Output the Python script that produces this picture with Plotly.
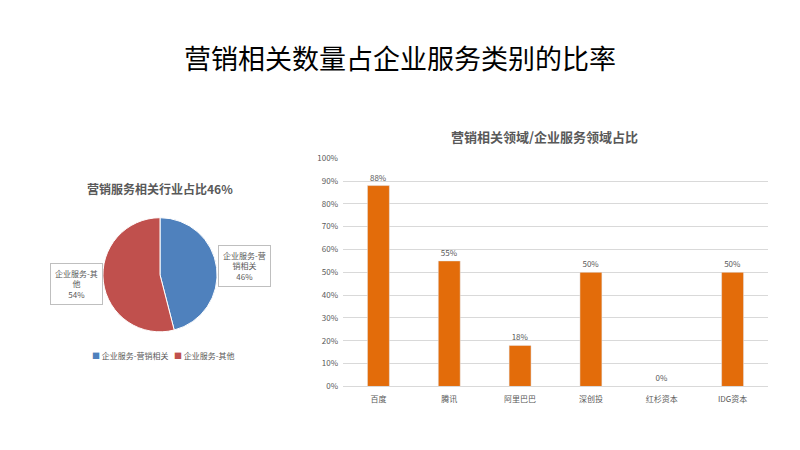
import plotly.graph_objects as go

# Pie data
pie_labels = ["企业服务-营销相关", "企业服务-其他"]
pie_values = [46, 54]
pie_colors = ["#4F81BD", "#C0504D"]

# Bar data
bar_categories = ["百度", "腾讯", "阿里巴巴", "深创投", "红杉资本", "IDG资本"]
bar_values = [0.88, 0.55, 0.18, 0.50, 0.00, 0.50]
bar_color = "#E36C0A"

FONT = "Noto Sans CJK SC"
GRAY = "#595959"
W, H = 800, 450


def px(x):
    return x / W


def py(y):
    return 1 - y / H


fig = go.Figure()

fig.add_trace(go.Pie(
    labels=pie_labels, values=pie_values,
    marker=dict(colors=pie_colors, line=dict(color="white", width=1)),
    sort=False, direction="clockwise", rotation=0,
    textinfo="none", hoverinfo="label+percent",
    domain=dict(x=[px(100), px(220)], y=[py(334), py(217)]),
    showlegend=False,
))

fig.add_trace(go.Bar(
    x=bar_categories, y=bar_values,
    marker=dict(color=bar_color),
    text=[f"{v:.0%}" for v in bar_values],
    textposition="outside", cliponaxis=False,
    textfont=dict(size=8, color=GRAY, family=FONT),
    width=0.31, showlegend=False,
))

legend_text = (f"<span style='color:{pie_colors[0]}'>■</span> {pie_labels[0]}"
               f"   <span style='color:{pie_colors[1]}'>■</span> {pie_labels[1]}")

annotations = [
    dict(text="营销相关数量占企业服务类别的比率", x=px(400), y=py(53), xref="paper", yref="paper",
         showarrow=False, font=dict(size=27, color="#000000", family=FONT), xanchor="center", yanchor="middle"),
    dict(text="<b>营销服务相关行业占比46%</b>", x=px(160), y=py(187), xref="paper", yref="paper",
         showarrow=False, font=dict(size=12, color=GRAY, family=FONT), xanchor="center", yanchor="middle"),
    dict(text="<b>营销相关领域/企业服务领域占比</b>", x=px(544), y=py(134), xref="paper", yref="paper",
         showarrow=False, font=dict(size=13, color=GRAY, family=FONT), xanchor="center", yanchor="middle"),
    dict(text="企业服务-营<br>销相关<br>46%", x=px(244), y=py(267), xref="paper", yref="paper",
         showarrow=False, font=dict(size=8, color=GRAY, family=FONT), xanchor="center", yanchor="middle",
         bordercolor="#BFBFBF", borderwidth=1, borderpad=4, bgcolor="white", align="center"),
    dict(text="企业服务-其<br>他<br>54%", x=px(76), y=py(285), xref="paper", yref="paper",
         showarrow=False, font=dict(size=8, color=GRAY, family=FONT), xanchor="center", yanchor="middle",
         bordercolor="#BFBFBF", borderwidth=1, borderpad=4, bgcolor="white", align="center"),
    dict(text=legend_text, x=px(163), y=py(358), xref="paper", yref="paper",
         showarrow=False, font=dict(size=8, color=GRAY, family=FONT), xanchor="center", yanchor="middle"),
]

fig.update_layout(
    width=W, height=H,
    margin=dict(l=0, r=0, t=0, b=0),
    paper_bgcolor="white", plot_bgcolor="white",
    font=dict(family=FONT, color=GRAY),
    annotations=annotations,
    showlegend=False,
    xaxis=dict(domain=[px(343), px(768)], showgrid=False, showline=True, linecolor="#D9D9D9",
               tickfont=dict(size=8, color=GRAY), ticks="", ticklabelstandoff=5, fixedrange=True),
    yaxis=dict(domain=[py(390), py(156)], range=[0, 1], dtick=0.1, tickformat=".0%",
               showgrid=True, gridcolor="#D9D9D9", zeroline=False, showline=False,
               tickfont=dict(size=8, color=GRAY), ticks="", ticklabelstandoff=4, fixedrange=True),
    bargap=0.69,
)

fig.write_html(
    "out.html",
    config={"displayModeBar": False},
    post_script="document.body.style.margin='0px';document.body.style.overflow='hidden';",
)
